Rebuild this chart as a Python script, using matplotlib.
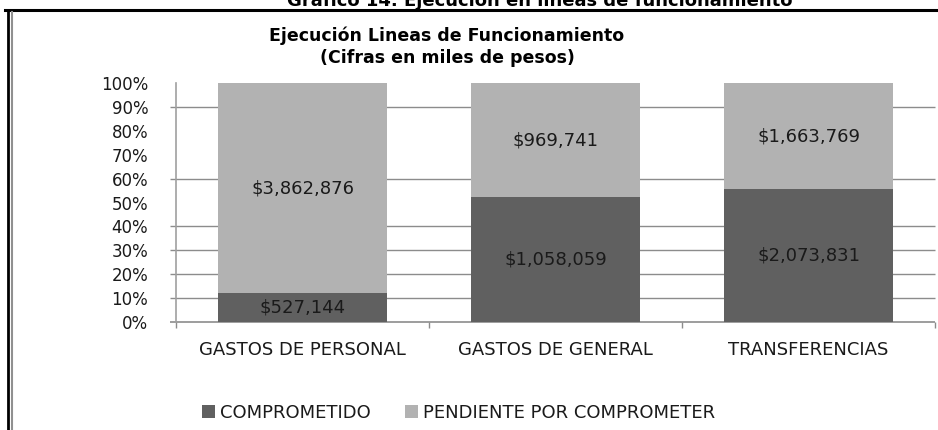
import matplotlib
matplotlib.use("Agg")
import matplotlib.pyplot as plt
from matplotlib.lines import Line2D
from matplotlib.patches import Patch

categories = ["GASTOS DE PERSONAL", "GASTOS DE GENERAL", "TRANSFERENCIAS"]
comprometido = [527144, 1058059, 2073831]
pendiente = [3862876, 969741, 1663769]
series_names = ["COMPROMETIDO", "PENDIENTE POR COMPROMETER"]
ytick_labels = ["0%", "10%", "20%", "30%", "40%", "50%", "60%", "70%", "80%", "90%", "100%"]
grid_levels = [0.1, 0.2, 0.3, 0.4, 0.6, 0.9]

dark = "#606060"
light = "#b2b2b2"
gridc = "#8c8c8c"
txt = "#1a1a1a"

W, H = 938, 430
fig = plt.figure(figsize=(W / 100, H / 100), dpi=100)
fig.patch.set_facecolor("white")

def fx(px):
    return px / W

def fy(py):
    return 1 - py / H

ax = fig.add_axes([fx(176), fy(322), fx(935) - fx(176), fy(83) - fy(322)])

totals = [c + p for c, p in zip(comprometido, pendiente)]
pc = [c / t for c, t in zip(comprometido, totals)]
pp = [p / t for p, t in zip(pendiente, totals)]
x = list(range(len(categories)))
bw = 0.667

ax.hlines(grid_levels, -0.525, 2.5, colors=gridc, linewidth=1.0, zorder=1, clip_on=False)
ax.bar(x, pc, width=bw, color=dark, zorder=3)
ax.bar(x, pp, width=bw, bottom=pc, color=light, zorder=3)

for i in x:
    ax.text(i, pc[i] / 2, "${:,}".format(comprometido[i]), ha="center", va="center",
            fontsize=13, color=txt, zorder=4)
    ax.text(i, pc[i] + pp[i] / 2, "${:,}".format(pendiente[i]), ha="center", va="center",
            fontsize=13, color=txt, zorder=4)

ax.set_xlim(-0.5, 2.5)
ax.set_ylim(0, 1)
ax.set_yticks([i / 10 for i in range(11)])
ax.set_yticklabels(ytick_labels, fontsize=12, color=txt)
ax.tick_params(axis="y", length=0, pad=20)
ax.set_xticks(x)
ax.set_xticklabels(categories, fontsize=13, color=txt)
ax.tick_params(axis="x", length=0, pad=14)
# category separator ticks
ax.vlines([-0.5, 0.5, 1.5, 2.5], -0.025, 0, colors=gridc, linewidth=1.0, clip_on=False)
ax.hlines([0], -0.525, 2.5, colors=gridc, linewidth=1.2, clip_on=False, zorder=2)

for s in ["top", "right", "bottom"]:
    ax.spines[s].set_visible(False)
ax.spines["left"].set_color("#a0a0a0")
ax.spines["left"].set_linewidth(1.2)
ax.set_facecolor("none")

# titles
fig.text(fx(447), fy(36), "Ejecución Lineas de Funcionamiento", ha="center", va="center",
         fontsize=12.5, fontweight="bold", color="black")
fig.text(fx(447), fy(58), "(Cifras en miles de pesos)", ha="center", va="center",
         fontsize=12.5, fontweight="bold", color="black")
fig.text(fx(540), fy(5.5), "Gráfico 14. Ejecución en líneas de funcionamiento", ha="center",
         va="baseline", fontsize=13, fontweight="bold", color="black")

# border
fig.add_artist(Line2D([fx(5), 1.0], [fy(10), fy(10)], color="black", linewidth=2.2))
fig.add_artist(Line2D([fx(8), fx(8)], [0, fy(10)], color="black", linewidth=2.0))
fig.add_artist(Line2D([fx(11.5), fx(11.5)], [0, fy(12)], color="#909090", linewidth=1.5))

# legend
handles = [Patch(facecolor=dark), Patch(facecolor=light)]
leg = fig.legend(handles, series_names, loc="center left",
                 bbox_to_anchor=(fx(186), fy(413)), frameon=False, ncol=2,
                 fontsize=13, handlelength=0.7, handleheight=0.7, handletextpad=0.3,
                 columnspacing=1.9, labelcolor=txt)

fig.savefig("out.png", dpi=100)
